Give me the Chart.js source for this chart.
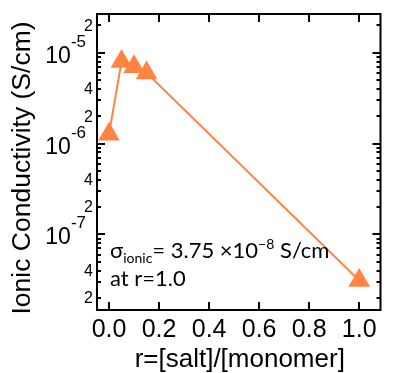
<!DOCTYPE html>
<html><head><meta charset="utf-8">
<script src="https://cdn.jsdelivr.net/npm/chart.js@4.4.0/dist/chart.umd.min.js"></script>
<style>html,body{margin:0;padding:0;background:#fff;}#wrap{width:393px;height:373px;}</style>
</head><body><div id="wrap"><canvas id="c" width="393" height="373"></canvas></div>
<script>
const ratios = [0.0, 0.05, 0.10, 0.15, 1.0];
const conductivity = [1.27e-6, 8.0e-6, 7.0e-6, 6.0e-6, 3.1e-8];
const xTickValues = [0.0, 0.2, 0.4, 0.6, 0.8, 1.0];
const xTickLabels = ['0.0', '0.2', '0.4', '0.6', '0.8', '1.0'];
const yDecadeValues = [1e-7, 1e-6, 1e-5];
const yDecadeExponents = ['-7', '-6', '-5'];
const yMinorLabelValues = [2e-8, 4e-8, 2e-7, 4e-7, 2e-6, 4e-6, 2e-5];
const yMinorLabels = ['2', '4', '2', '4', '2', '4', '2'];
const xTitle = 'r=[salt]/[monomer]';
const yTitle = 'Ionic Conductivity (S/cm)';
const noteSigma = 'σ';
const noteSub = 'ionic';
const noteMid = '= 3.75 ×10';
const noteSup = '−8';
const noteEnd = ' S/cm';
const noteLine2 = 'at r=1.0';

const ORANGE = 'rgb(255,132,66)';
const SANS = '"Liberation Sans", Arial, Helvetica, sans-serif';
const NOTE = 'Lato, "Open Sans", sans-serif';

const framePlugin = {
  id: 'frame',
  beforeDatasetsDraw(chart) {
    const { ctx, chartArea: a, scales: { x, y } } = chart;
    ctx.save();
    ctx.strokeStyle = '#000';
    ctx.lineWidth = 2;
    ctx.strokeRect(a.left, a.top, a.right - a.left, a.bottom - a.top);
    ctx.beginPath();
    xTickValues.forEach(v => {
      const px = Math.round(x.getPixelForValue(v));
      ctx.moveTo(px, a.bottom); ctx.lineTo(px, a.bottom - 8);
      ctx.moveTo(px, a.top); ctx.lineTo(px, a.top + 8);
    });
    for (let e = -9; e <= -4; e++) {
      for (let k = 1; k <= 9; k++) {
        const v = k * Math.pow(10, e);
        if (v < y.min || v > y.max) continue;
        const py = Math.round(y.getPixelForValue(v));
        const len = k === 1 ? 8 : 4;
        ctx.moveTo(a.left, py); ctx.lineTo(a.left + len, py);
        ctx.moveTo(a.right, py); ctx.lineTo(a.right - len, py);
      }
    }
    ctx.stroke();
    ctx.restore();
  },
  afterDraw(chart) {
    const { ctx, chartArea: a, scales: { x, y } } = chart;
    ctx.save();
    ctx.fillStyle = '#000';
    // x tick labels
    ctx.font = '25px ' + SANS;
    ctx.textAlign = 'center';
    ctx.textBaseline = 'alphabetic';
    xTickValues.forEach((v, i) => {
      ctx.fillText(xTickLabels[i], x.getPixelForValue(v), a.bottom + 27);
    });
    // y minor labels
    ctx.font = '16px ' + SANS;
    ctx.textAlign = 'right';
    ctx.textBaseline = 'middle';
    yMinorLabelValues.forEach((v, i) => {
      ctx.fillText(yMinorLabels[i], a.left - 4, y.getPixelForValue(v) + 1);
    });
    // y decade labels
    ctx.textBaseline = 'alphabetic';
    yDecadeValues.forEach((v, i) => {
      const py = y.getPixelForValue(v);
      ctx.font = '17px ' + SANS;
      const ew = ctx.measureText(yDecadeExponents[i]).width;
      const expRight = a.left - 11;
      const baseRight = expRight - ew;
      ctx.textAlign = 'left';
      ctx.fillText(yDecadeExponents[i], baseRight, py - 6);
      ctx.font = '23px ' + SANS;
      ctx.textAlign = 'right';
      ctx.fillText('10', baseRight, py + 10);
    });
    // axis titles
    ctx.font = '26px ' + SANS;
    ctx.textAlign = 'center';
    ctx.textBaseline = 'alphabetic';
    ctx.fillText(xTitle, (a.left + a.right) / 2 + 1, 367);
    ctx.save();
    ctx.translate(23, 168);
    ctx.rotate(-Math.PI / 2);
    ctx.textBaseline = 'middle';
    ctx.font = '26.5px ' + SANS;
    ctx.fillText(yTitle, 0, 0);
    ctx.restore();
    // annotation
    ctx.textAlign = 'left';
    ctx.textBaseline = 'alphabetic';
    let cx = a.left + 13;
    const b1 = 258;
    ctx.font = '22px ' + NOTE;
    ctx.fillText(noteSigma, cx, b1); cx += ctx.measureText(noteSigma).width;
    ctx.font = '14px ' + NOTE;
    ctx.fillText(noteSub, cx, b1 + 5); cx += ctx.measureText(noteSub).width;
    ctx.font = '22px ' + NOTE;
    ctx.fillText(noteMid, cx, b1); cx += ctx.measureText(noteMid).width;
    ctx.font = '14px ' + NOTE;
    ctx.fillText(noteSup, cx, b1 - 9); cx += ctx.measureText(noteSup).width;
    ctx.font = '22px ' + NOTE;
    ctx.fillText(noteEnd, cx, b1);
    ctx.fillText(noteLine2, a.left + 13, 286);
    ctx.restore();
  }
};

new Chart(document.getElementById('c'), {
  type: 'scatter',
  data: {
    datasets: [{
      data: ratios.map((r, i) => ({ x: r, y: conductivity[i] })),
      showLine: true,
      borderColor: ORANGE,
      borderWidth: 2,
      backgroundColor: ORANGE,
      pointStyle: 'triangle',
      pointRadius: 12.5,
      pointBorderWidth: 0,
      pointBackgroundColor: ORANGE,
      pointHoverRadius: 12.5
    }]
  },
  options: {
    responsive: false,
    animation: false,
    devicePixelRatio: 1,
    layout: { padding: { top: 14, right: 1, left: 0, bottom: 0 } },
    plugins: { legend: { display: false }, tooltip: { enabled: false } },
    scales: {
      x: {
        type: 'linear', min: -0.048, max: 1.085,
        grid: { display: false }, border: { display: false },
        ticks: { display: false },
        afterFit(s) { s.height = 63; }
      },
      y: {
        type: 'logarithmic', min: 1.47e-8, max: 2.67e-5,
        grid: { display: false }, border: { display: false },
        ticks: { display: false },
        afterFit(s) { s.width = 97; }
      }
    }
  },
  plugins: [framePlugin]
});
</script>
</body></html>
